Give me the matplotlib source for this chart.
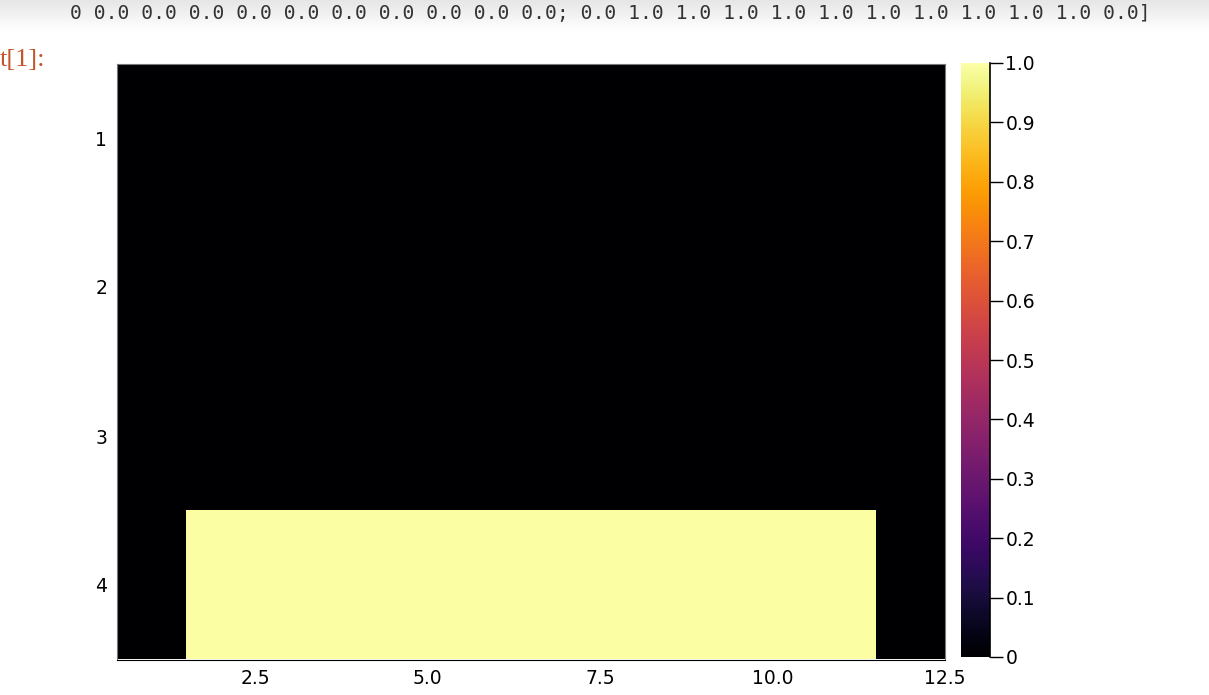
import numpy as np
import matplotlib
matplotlib.use("Agg")
import matplotlib.pyplot as plt

# heatmap values, 4 rows x 12 columns
row1 = [0.0] * 12
row2 = [0.0] * 12
row3 = [0.0] * 12
row4 = [0.0, 1.0, 1.0, 1.0, 1.0, 1.0, 1.0, 1.0, 1.0, 1.0, 1.0, 0.0]
xticks = [2.5, 5.0, 7.5, 10.0, 12.5]
yticks = [1, 2, 3, 4]
cbticks = [0, 0.1, 0.2, 0.3, 0.4, 0.5, 0.6, 0.7, 0.8, 0.9, 1.0]
cblabels = ["0", "0.1", "0.2", "0.3", "0.4", "0.5", "0.6", "0.7", "0.8", "0.9", "1.0"]
topline = "0 0.0 0.0 0.0 0.0 0.0 0.0 0.0 0.0 0.0 0.0; 0.0 1.0 1.0 1.0 1.0 1.0 1.0 1.0 1.0 1.0 1.0 0.0]"

W, H = 1209, 695
fig = plt.figure(figsize=(W / 100, H / 100), dpi=100)

# notebook output strip at the top (shadow + printed matrix)
sh = fig.add_axes([0, 1 - 32 / H, 1, 32 / H], zorder=0)
grad = np.linspace(0.9, 1.0, 32).reshape(-1, 1)
sh.imshow(grad, cmap="gray", vmin=0, vmax=1, aspect="auto")
sh.axis("off")
fig.text(70 / W, 1 - 13 / H, topline, family="DejaVu Sans Mono", fontsize=14.2,
         color="#333333", va="center", ha="left", zorder=5)
fig.text(0, 1 - 60 / H, "t[1]:", family="Liberation Serif", fontsize=19,
         color="#c4542c", va="center", ha="left")

data = np.array([row1, row2, row3, row4])

ax = fig.add_axes([117 / W, 1 - 659.5 / H, (945 - 117) / W, (659.5 - 63.5) / H])
im = ax.imshow(data, cmap="inferno", vmin=0, vmax=1, aspect="auto",
               extent=[0.5, 12.5, 4.5, 0.5], interpolation="nearest")
ax.set_xlim(0.5, 12.5)
ax.set_ylim(4.5, 0.5)
ax.set_xticks(xticks)
ax.set_xticklabels([str(t) for t in xticks])
ax.set_yticks(yticks)
ax.tick_params(labelsize=13.5, length=0, pad=7)
for s in ax.spines.values():
    s.set_color("#777777")
    s.set_linewidth(0.8)
ax.spines["bottom"].set_color("black")

cax = fig.add_axes([961 / W, 1 - 657 / H, 29 / W, (657 - 63) / H])
cb = fig.colorbar(im, cax=cax, ticks=cbticks)
cb.set_ticklabels(cblabels)
cb.outline.set_visible(False)
cax.plot([1, 1], [0, 1], transform=cax.transAxes, color="black", lw=1.2, clip_on=False)
cax.tick_params(labelsize=13.5, length=9, width=1.0, direction="out", pad=2)

fig.savefig("out.png", dpi=100)
